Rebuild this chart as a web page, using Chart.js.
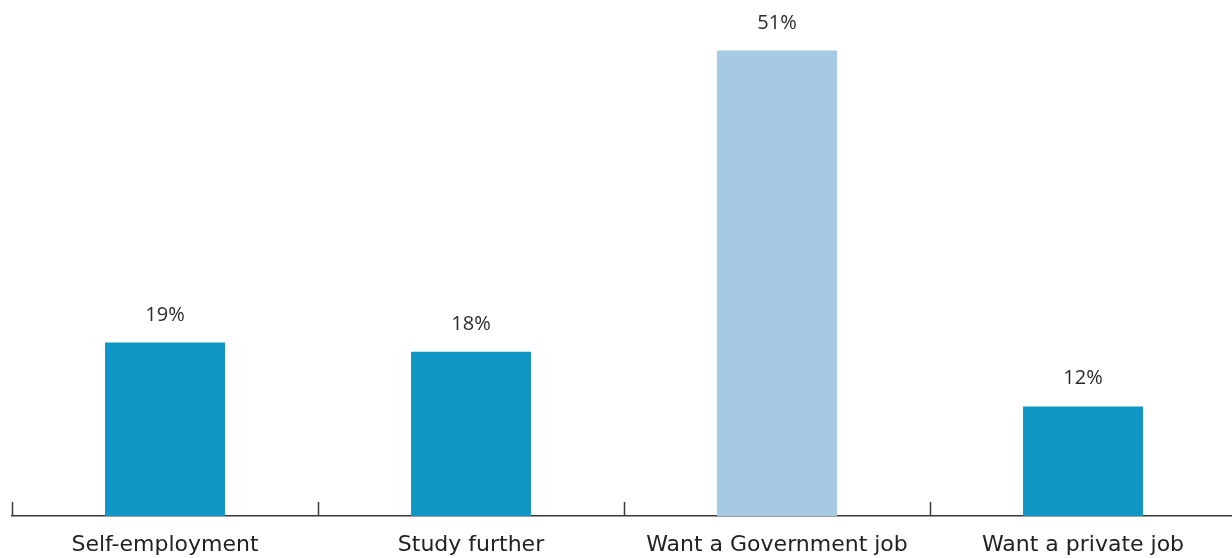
<!DOCTYPE html>
<html>
<head>
<meta charset="utf-8">
<script src="https://cdn.jsdelivr.net/npm/chart.js@4/dist/chart.umd.min.js"></script>
<style>
  html, body { margin: 0; padding: 0; background: #fff; overflow: hidden; }
  #wrap { width: 1240px; height: 558px; }
</style>
</head>
<body>
<div id="wrap"><canvas id="plans-chart" width="1240" height="558"></canvas></div>
<script>
const categories = ['Self-employment', 'Study further', 'Want a Government job', 'Want a private job']
const shares = [19, 18, 51, 12]
const barColors = ['#1096c4', '#1096c4', '#a6cae3', '#1096c4']

const LABEL_FONT = '"DejaVu Sans", "Open Sans", sans-serif'
const VALUE_FONT = '"Open Sans", "Noto Sans", sans-serif'

// percentage above each bar
const valueLabels = {
    id: 'valueLabels',
    afterDatasetsDraw(chart) {
        const ctx = chart.ctx
        const meta = chart.getDatasetMeta(0)
        ctx.save()
        ctx.font = '20px ' + VALUE_FONT
        ctx.fillStyle = '#2b2b2b'
        ctx.textAlign = 'center'
        ctx.textBaseline = 'alphabetic'
        meta.data.forEach((bar, i) => {
            ctx.fillText(shares[i] + '%', bar.x, bar.y - 22)
        })
        ctx.restore()
    }
}

// short upward ticks between categories
const dividerTicks = {
    id: 'dividerTicks',
    beforeDatasetsDraw(chart) {
        const ctx = chart.ctx
        const x = chart.scales.x
        const bottom = chart.chartArea.bottom
        ctx.save()
        ctx.strokeStyle = '#3a3a3a'
        ctx.lineWidth = 1.5
        for (let i = 0; i <= categories.length; i++) {
            const px = Math.round(x.getPixelForValue(i - 0.5)) + 0.5
            ctx.beginPath()
            ctx.moveTo(px, bottom)
            ctx.lineTo(px, bottom - 14)
            ctx.stroke()
        }
        ctx.restore()
    }
}

var ctx = document.getElementById('plans-chart').getContext('2d')
var chart = new Chart(ctx, {
    type: 'bar',
    data: {
        labels: categories,
        datasets: [{
            data: shares,
            backgroundColor: barColors,
            barPercentage: 0.392,
            categoryPercentage: 1,
        }]
    },
    options: {
        responsive: false,
        animation: false,
        layout: { padding: { left: 12, right: 4, top: 14, bottom: 0 } },
        plugins: {
            legend: { display: false },
            tooltip: { enabled: false },
        },
        scales: {
            x: {
                offset: true,
                grid: { display: false, drawTicks: false },
                border: { display: true, color: '#3a3a3a', width: 1.5 },
                ticks: {
                    padding: 16,
                    color: '#222',
                    font: { family: LABEL_FONT, size: 22 },
                    maxRotation: 0,
                    autoSkip: false,
                },
                afterFit(scale) {
                    scale.height = 42
                },
            },
            y: {
                display: false,
                min: 0,
                max: 55,
            }
        }
    },
    plugins: [dividerTicks, valueLabels]
})
</script>
</body>
</html>
